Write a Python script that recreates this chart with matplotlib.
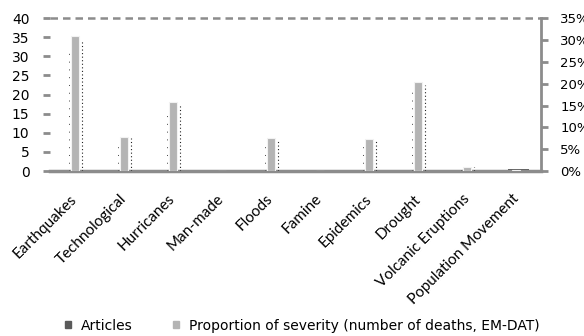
import numpy as np
import matplotlib.pyplot as plt
import matplotlib.transforms as mtransforms

# categories and values
categories = ["Earthquakes", "Technological", "Hurricanes", "Man-made", "Floods",
              "Famine", "Epidemics", "Drought", "Volcanic Eruptions", "Population Movement"]
articles = [0, 0, 0, 0, 0, 0, 0, 0, 0, 0.5]                       # left axis
severity = [30.9, 7.8, 15.8, 0, 7.5, 0, 7.3, 20.3, 0.9, 0.3]      # right axis, %

x = np.arange(len(categories))
grey = "#8c8c8c"

fig = plt.figure(figsize=(5.84, 3.36), dpi=100)
ax = fig.add_axes([0.086, 0.491, 0.840, 0.455])
ax2 = ax.twinx()

ax.bar(x + 0.04, articles, width=0.42, color="#5a5a5a", zorder=2)
ax2.bar(x, severity, width=0.16, color="#b4b4b4", edgecolor="#f2f2f2", linewidth=0.8, zorder=3)

# the dotted outlines beside the bars
sev = np.array(severity)
m = sev > 0.5
ax2.vlines(x[m] + 0.14, 0, sev[m] * 0.97, color="#222222", linewidth=0.8,
           linestyles=(0, (1, 2.2)), zorder=4)
ax2.vlines(x[m] - 0.12, 0, sev[m] * 0.9, color="#444444", linewidth=0.7,
           linestyles=(0, (1, 7)), zorder=4)

ax.set_xlim(-0.5, len(categories) - 0.5)
ax.set_ylim(0, 40)
ax.set_yticks(range(0, 41, 5))
ax2.set_ylim(0, 35)
ax2.set_yticks(range(0, 36, 5))
ax2.set_yticklabels([f"{v}%" for v in range(0, 36, 5)])

# dashed line on top at 40
ax.axhline(40, color=grey, linestyle=(0, (3, 2)), linewidth=1.8, zorder=1, clip_on=False)

for a in (ax, ax2):
    a.spines["top"].set_visible(False)
    a.spines["left"].set_visible(False)
ax.spines["right"].set_visible(False)
ax2.spines["bottom"].set_visible(False)
ax2.spines["right"].set_color(grey)
ax2.spines["right"].set_linewidth(2)
ax.spines["bottom"].set_color(grey)
ax.spines["bottom"].set_linewidth(2.5)

ax.tick_params(axis="y", length=5, width=2, color=grey, pad=10, labelsize=10)
ax2.tick_params(axis="y", length=5, width=2, color=grey, pad=9, labelsize=9.5)
ax.tick_params(axis="x", length=0, pad=15)
ax.set_xticks(x)
ax.set_xticklabels(categories, rotation=45, ha="right", rotation_mode="anchor",
                   fontsize=11, family="Lato")
shift = mtransforms.ScaledTranslation(-5 / 100, 0, fig.dpi_scale_trans)
for lbl in ax.get_xticklabels():
    lbl.set_transform(lbl.get_transform() + shift)

handles = [plt.Rectangle((0, 0), 1, 1, color="#5a5a5a"),
           plt.Rectangle((0, 0), 1, 1, color="#b4b4b4")]
fig.legend(handles, ["Articles", "Proportion of severity (number of deaths, EM-DAT)"],
           loc="lower center", bbox_to_anchor=(0.517, -0.027), ncol=2, frameon=False,
           fontsize=10, handlelength=0.45, handleheight=0.45, columnspacing=2.9, handletextpad=0.7)

fig.savefig("out.png", dpi=100)
